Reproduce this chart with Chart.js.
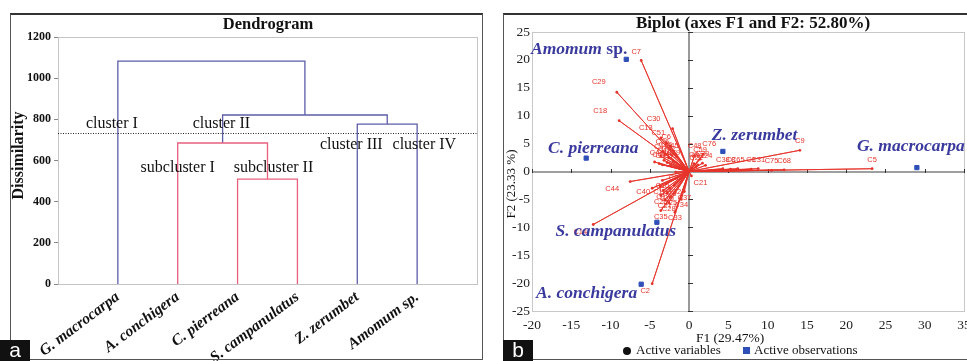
<!DOCTYPE html>
<html>
<head>
<meta charset="utf-8">
<script src="https://cdn.jsdelivr.net/npm/chart.js@4.4.1/dist/chart.umd.min.js"></script>
<style>
  body { margin: 0; width: 967px; height: 361px; overflow: hidden; background: #fff; position: relative; }
  .wrap { position: absolute; }
  .frame { position: absolute; border: 1px solid #555; border-top: 2px solid #333; pointer-events: none; }
  .tag { position: absolute; background: #111; color: #fff; font: 21px 'Liberation Sans', Arial, sans-serif;
         text-align: center; line-height: 20px; width: 30px; height: 21px; }
</style>
</head>
<body>
<div class="wrap" style="left:10px;top:14px"><canvas id="dendro" width="472" height="347"></canvas></div>
<div class="wrap" style="left:496px;top:14px"><canvas id="biplot" width="490" height="347"></canvas></div>
<div class="frame" style="left:10px;top:13px;width:471px;height:344px"></div>
<div class="frame" style="left:503px;top:13px;width:480px;height:344px"></div>
<div class="tag" style="left:0;top:340px">a</div>
<div class="tag" style="left:503px;top:340px">b</div>
<script>
// ---- panel a : dendrogram ----
const leaves = ['G. macrocarpa', 'A. conchigera', 'C. pierreana', 'S. campanulatus', 'Z. zerumbet', 'Amomum sp.'];
// linkage: node ids 0-5 are leaves, each merge makes node 6, 7, ...
const mergeA = [2, 1, 4, 7, 0];
const mergeB = [3, 6, 5, 8, 9];
const mergeHeight = [510, 685, 777, 821, 1083];
const mergeGroup = ['sub', 'sub', 'main', 'main', 'main'];
const cutLevel = 733;

// ---- panel b : biplot ----
const varNames = ['C7', 'C29', 'C18', 'C30', 'C13', 'C51', 'C6',
  'C26', 'C36', 'C41', 'C42', 'C43', 'C45', 'C4', 'C46', 'C47', 'C49', 'C50', 'C53',
  'C48', 'C76', 'C59', 'C3', 'C11', 'C20', 'C22', 'C24',
  'C38', 'C8', 'C65', 'C1', 'C31', 'C75', 'C68', 'C9', 'C5', 'C21', 'C39',
  'C44', 'C40', 'C14', 'C35', 'C2',
  'C10', 'C12', 'C15', 'C16', 'C17', 'C19', 'C23', 'C25', 'C27', 'C28', 'C32', 'C33', 'C34', 'C37'];
const varF1 = [-6.1, -9.2, -8.9, -2.1, -3.6, -2.9, -2.4,
  -3.4, -3.0, -3.6, -2.6, -3.2, -2.2, -4.4, -2.8, -3.8, -2.0, -3.4, -2.4,
  0.7, 1.8, 1.4, 0.6, 1.1, 1.7, 0.9, 2.1,
  4.3, 5.3, 6.2, 7.9, 8.8, 10.5, 12.1, 14.1, 23.3, 0.3, -1.7,
  -7.5, -4.7, -12.2, -3.6, -4.7,
  -3.4, -2.9, -3.7, -2.5, -3.3, -2.8, -3.6, -2.4, -3.1, -2.6, -1.9, -1.8, -1.0, -0.6];
const varF2 = [19.9, 14.2, 9.1, 7.7, 6.0, 5.2, 4.6,
  3.6, 3.1, 2.7, 2.4, 2.0, 2.9, 1.7, 1.6, 1.4, 1.8, 1.2, 1.1,
  2.9, 3.1, 2.2, 1.4, 1.2, 1.5, 0.9, 1.1,
  0.5, 0.4, 0.5, 0.4, 0.5, 0.2, 0.3, 3.8, 0.5, -0.8, -0.1,
  -1.8, -3.0, -9.5, -7.0, -20.1,
  -1.6, -2.2, -2.6, -3.0, -3.4, -3.9, -4.3, -4.6, -5.1, -5.6, -2.5, -7.3, -5.0, -3.6];
const obsNames = leaves;
const obsF1 = [29.0, -6.1, -13.1, -4.1, 4.3, -8.0];
const obsF2 = [0.7, -20.2, 2.4, -9.1, 3.6, 20.1];
const f1Ticks = [-20, 35];
const f2Ticks = [-25, 25];

const serif = "'Liberation Serif', 'Times New Roman', Times, serif";
const blueLink = '#5d5da8';
const pinkLink = '#e8607e';
const varRed = '#e6332a';
const obsBlue = '#2f4fb8';
const obsText = '#3a3a9e';

// build the dendrogram links from the merge table
var nodeX = leaves.map(function(l, i) { return i + 1; });
var nodeH = leaves.map(function() { return 0; });
var linkSets = [];
for (var m = 0; m < mergeHeight.length; m++) {
    var a = mergeA[m], b = mergeB[m], h = mergeHeight[m];
    linkSets.push({
        data: [{x: nodeX[a], y: nodeH[a]}, {x: nodeX[a], y: h}, {x: nodeX[b], y: h}, {x: nodeX[b], y: nodeH[b]}],
        showLine: true,
        pointRadius: 0,
        borderColor: mergeGroup[m] == 'sub' ? pinkLink : blueLink,
        borderWidth: 1.3
    });
    nodeX.push((nodeX[a] + nodeX[b]) / 2);
    nodeH.push(h);
}

var dendroDeco = {
    id: 'dendroDeco',
    beforeDatasetsDraw: function(chart) {
        var ctx = chart.ctx, ca = chart.chartArea;
        ctx.save();
        ctx.strokeStyle = '#c4c4c4';
        ctx.lineWidth = 1;
        ctx.strokeRect(ca.left + 0.5, ca.top + 0.5, ca.right - ca.left, ca.bottom - ca.top);
        ctx.restore();
    },
    afterDatasetsDraw: function(chart) {
        var ctx = chart.ctx, ca = chart.chartArea;
        var xs = chart.scales.x, ys = chart.scales.y;
        ctx.save();
        var yc = Math.round(ys.getPixelForValue(cutLevel)) + 0.5;
        ctx.strokeStyle = '#222';
        ctx.lineWidth = 1;
        ctx.setLineDash([1, 1.5]);
        ctx.beginPath();
        ctx.moveTo(ca.left, yc);
        ctx.lineTo(ca.right, yc);
        ctx.stroke();
        ctx.setLineDash([]);

        ctx.fillStyle = '#111';
        ctx.font = '16px ' + serif;
        ctx.textAlign = 'center';
        ctx.textBaseline = 'middle';
        var notes = [['cluster I', 0.9, 777], ['cluster II', 2.73, 777], ['cluster III', 4.9, 675],
                     ['cluster IV', 6.12, 675], ['subcluster I', 2.0, 565], ['subcluster II', 3.6, 565]];
        notes.forEach(function(n) {
            ctx.fillText(n[0], xs.getPixelForValue(n[1]), ys.getPixelForValue(n[2]));
        });

        ctx.font = 'bold 16.5px ' + serif;
        ctx.fillText('Dendrogram', 258, 11);
        ctx.translate(9, (ca.top + ca.bottom) / 2 - 5);
        ctx.rotate(-Math.PI / 2);
        ctx.font = 'bold 16px ' + serif;
        ctx.fillText('Dissimilarity', 0, 0);
        ctx.restore();
    }
};

new Chart(document.getElementById('dendro'), {
    type: 'scatter',
    data: { datasets: linkSets },
    options: {
        responsive: false,
        animation: false,
        layout: { padding: { top: 23, right: 5, left: 0, bottom: 0 } },
        plugins: { legend: { display: false }, tooltip: { enabled: false } },
        scales: {
            x: {
                type: 'linear', min: 0, max: leaves.length + 1,
                afterBuildTicks: function(scale) {
                    scale.ticks = leaves.map(function(l, i) { return { value: i + 1 }; });
                },
                afterFit: function(scale) { scale.height = 77; },
                grid: { display: false, drawTicks: false },
                border: { color: '#9a9a9a' },
                ticks: {
                    autoSkip: false, minRotation: 37, maxRotation: 37, padding: 4,
                    color: '#111', font: { family: serif, size: 15.5, style: 'italic', weight: 'bold' },
                    callback: function(v) { return leaves[v - 1]; }
                }
            },
            y: {
                min: 0, max: 1200,
                afterFit: function(scale) { scale.width = 48; },
                grid: { drawOnChartArea: false, drawTicks: true, tickLength: 4, color: '#888' },
                border: { color: '#9a9a9a' },
                ticks: { stepSize: 200, padding: 3, color: '#111', font: { family: serif, size: 12, weight: 'bold' },
                         callback: function(v) { return String(v); } }
            }
        }
    },
    plugins: [dendroDeco]
});

// ---- biplot ----
var vecData = [];
for (var i = 0; i < varNames.length; i++) {
    vecData.push({x: 0, y: 0});
    vecData.push({x: varF1[i], y: varF2[i]});
}
var obsData = obsF1.map(function(v, i) { return {x: v, y: obsF2[i]}; });

var labelShift = { C7: [-5, -9], C29: [-18, -10], C18: [-19, -10], C30: [-19, -10], C13: [-15, -10],
    C51: [-8, -10], C6: [-4, -9], C76: [6, -10], C21: [9, 7], C44: [-18, 7], C40: [-9, 4], C14: [-13, 7], C2: [-7, 7] };
var obsPlace = [[-6, -21, 'center'], [-4, 9, 'right'], [7, -10, 'center'], [-41, 9, 'center'], [-11, -16, 'left'], [1, -10, 'right']];

var biplotDeco = {
    id: 'biplotDeco',
    beforeDatasetsDraw: function(chart) {
        var ctx = chart.ctx, ca = chart.chartArea;
        var xs = chart.scales.x, ys = chart.scales.y;
        ctx.save();
        ctx.strokeStyle = '#c8c8c8';
        ctx.lineWidth = 1;
        ctx.strokeRect(ca.left + 0.5, ca.top + 0.5, ca.right - ca.left, ca.bottom - ca.top);
        var x0 = Math.round(xs.getPixelForValue(0)), y0 = Math.round(ys.getPixelForValue(0));
        ctx.strokeStyle = '#808080';
        ctx.lineWidth = 1.6;
        ctx.beginPath();
        ctx.moveTo(x0, ca.top); ctx.lineTo(x0, ca.bottom);
        ctx.moveTo(ca.left, y0); ctx.lineTo(ca.right, y0);
        ctx.stroke();
        ctx.strokeStyle = '#333';
        ctx.lineWidth = 1;
        ys.ticks.forEach(function(t) {
            if (t.value == 0) return;
            var p = Math.round(ys.getPixelForValue(t.value)) + 0.5;
            ctx.beginPath(); ctx.moveTo(x0 - 1, p); ctx.lineTo(x0 + 4, p); ctx.stroke();
        });
        xs.ticks.forEach(function(t) {
            if (t.value == 0) return;
            var p = Math.round(xs.getPixelForValue(t.value)) + 0.5;
            ctx.beginPath(); ctx.moveTo(p, y0 - 3); ctx.lineTo(p, y0 + 1); ctx.stroke();
        });
        ctx.restore();
    },
    afterDatasetsDraw: function(chart) {
        var ctx = chart.ctx, ca = chart.chartArea;
        var xs = chart.scales.x, ys = chart.scales.y;
        ctx.save();
        ctx.textAlign = 'center';
        ctx.textBaseline = 'middle';
        ctx.fillStyle = varRed;
        ctx.font = "7.5px 'Liberation Sans', Arial, sans-serif";
        varNames.forEach(function(n, i) {
            var s = labelShift[n] || (varF2[i] >= 0 ? [0, -9] : [0, 6]);
            ctx.fillText(n, xs.getPixelForValue(varF1[i]) + s[0], ys.getPixelForValue(varF2[i]) + s[1]);
        });

        ctx.fillStyle = obsText;
        obsNames.forEach(function(n, i) {
            var p = obsPlace[i];
            var px = xs.getPixelForValue(obsF1[i]) + p[0], py = ys.getPixelForValue(obsF2[i]) + p[1];
            var parts = n.split(' sp.');
            var it = parts[0], up = parts.length > 1 ? ' sp.' : '';
            ctx.font = 'italic bold 17.5px ' + serif;
            var w1 = ctx.measureText(it).width;
            ctx.font = 'bold 17.5px ' + serif;
            var w2 = up ? ctx.measureText(up).width : 0;
            var left = p[2] == 'right' ? px - w1 - w2 : (p[2] == 'left' ? px : px - (w1 + w2) / 2);
            ctx.textAlign = 'left';
            ctx.font = 'italic bold 17.5px ' + serif;
            ctx.fillText(it, left, py);
            if (up) { ctx.font = 'bold 17.5px ' + serif; ctx.fillText(up, left + w1, py); }
        });

        ctx.fillStyle = '#111';
        ctx.textAlign = 'center';
        ctx.font = 'bold 17px ' + serif;
        ctx.fillText('Biplot (axes F1 and F2: 52.80%)', 257, 10);
        ctx.font = '13.5px ' + serif;
        ctx.fillText('F1 (29.47%)', 234, 324);
        // legend
        ctx.textAlign = 'left';
        ctx.font = '13px ' + serif;
        ctx.beginPath(); ctx.arc(131, 337, 4, 0, Math.PI * 2); ctx.fill();
        ctx.fillText('Active variables', 140, 337);
        ctx.fillStyle = obsBlue;
        ctx.fillRect(247, 333, 7, 7);
        ctx.fillStyle = '#111';
        ctx.fillText('Active observations', 258, 337);
        // y title
        ctx.translate(16, 170);
        ctx.rotate(-Math.PI / 2);
        ctx.textAlign = 'center';
        ctx.fillText('F2 (23.33 %)', 0, 0);
        ctx.restore();
    }
};

new Chart(document.getElementById('biplot'), {
    type: 'scatter',
    data: {
        datasets: [{
            label: 'Active variables',
            data: vecData,
            showLine: true,
            borderColor: varRed,
            borderWidth: 0.9,
            backgroundColor: varRed,
            pointBorderWidth: 0,
            pointRadius: function(c) { return c.dataIndex % 2 ? 1.4 : 0; }
        }, {
            label: 'Active observations',
            data: obsData,
            pointStyle: 'rect',
            pointRadius: 3,
            backgroundColor: obsBlue,
            borderColor: obsBlue
        }]
    },
    options: {
        responsive: false,
        animation: false,
        layout: { padding: { top: 18, right: 22, left: 0, bottom: 0 } },
        plugins: { legend: { display: false }, tooltip: { enabled: false } },
        scales: {
            x: {
                type: 'linear', min: f1Ticks[0], max: f1Ticks[1],
                afterFit: function(scale) { scale.height = 50; },
                grid: { display: false, drawTicks: false },
                border: { color: '#a8a8a8' },
                ticks: { stepSize: 5, padding: 6, color: '#222', font: { family: serif, size: 13.5 } }
            },
            y: {
                min: f2Ticks[0], max: f2Ticks[1],
                afterFit: function(scale) { scale.width = 36; },
                grid: { display: false, drawTicks: false },
                border: { color: '#a8a8a8' },
                ticks: { stepSize: 5, padding: 2, color: '#222', font: { family: serif, size: 13.5 } }
            }
        }
    },
    plugins: [biplotDeco]
});
</script>
</body>
</html>
